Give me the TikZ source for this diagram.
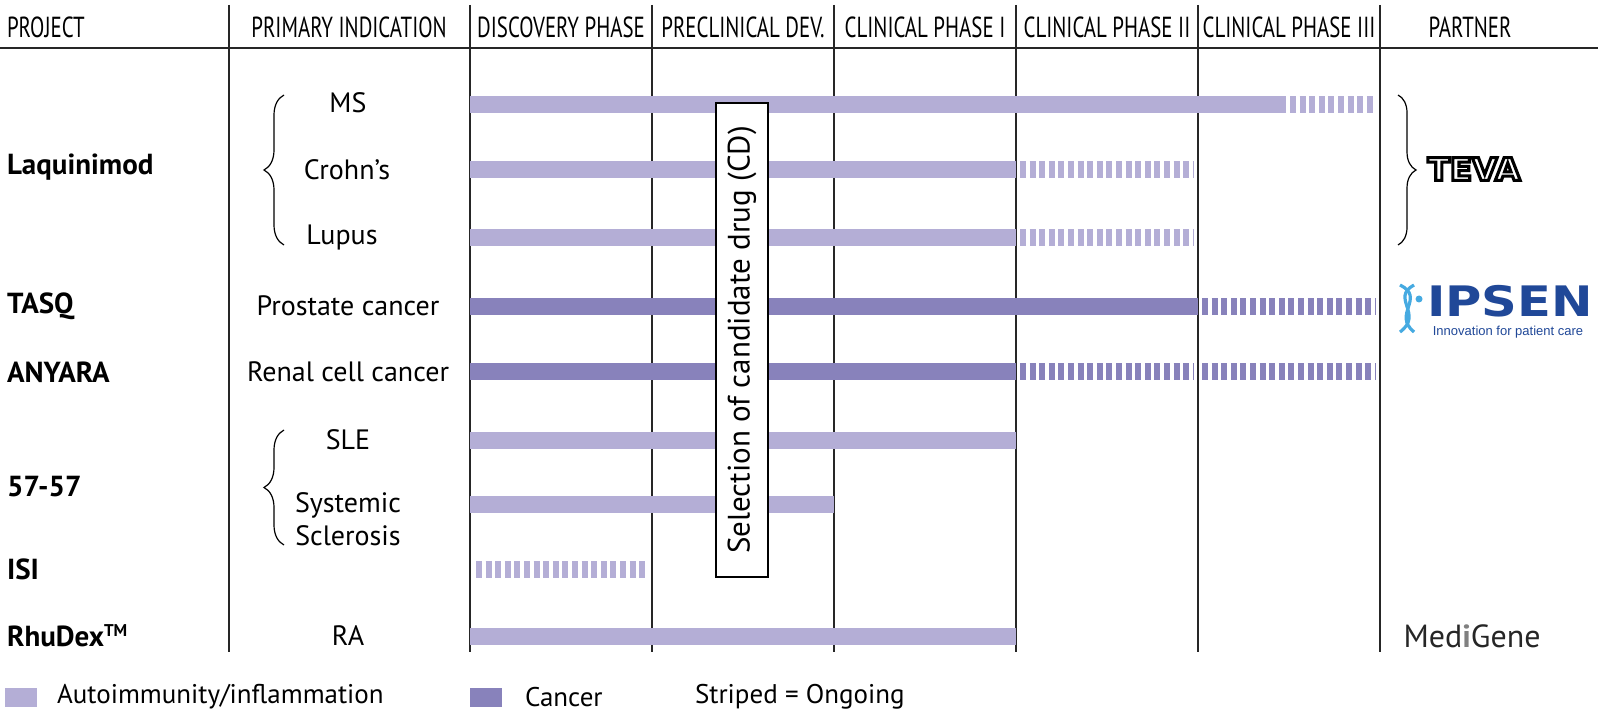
\documentclass[tikz,border=0pt]{standalone}
\usepackage{fontspec}
\setmainfont{PT Sans}
\newfontfamily\headfont[FakeStretch=0.72]{PT Sans}
\newfontfamily\logofont{DejaVu Sans}
\newfontfamily\ipsfont{Liberation Sans}
\usetikzlibrary{decorations.pathreplacing}
\definecolor{autocol}{RGB}{180,174,214}
\definecolor{cancol}{RGB}{136,130,187}
\definecolor{ipsblue}{RGB}{32,72,152}
\definecolor{dnablue}{RGB}{70,170,225}
\newcommand{\outlinetext}[1]{\special{pdf:literal 0 G 2 Tr 1.5 w}#1\special{pdf:literal 0 Tr}}
\tikzset{
  grid/.style={line width=0.7pt, black!85},
  head/.style={font=\headfont\fontsize{14.5}{16}\selectfont},
  proj/.style={font=\bfseries\fontsize{14.5}{16}\selectfont, anchor=west},
  ind/.style={font=\fontsize{14}{16.5}\selectfont, align=center},
  auto/.style={line width=8.5pt, autocol},
  canc/.style={line width=8.5pt, cancol},
  ongo/.style={dash pattern=on 3pt off 1.8pt},
  curly/.style={decorate, decoration={brace, amplitude=#1}, line width=0.6pt},
  legtext/.style={font=\fontsize{13.5}{15}\selectfont, anchor=west}
}
\begin{document}
\begin{tikzpicture}[x=0.5pt,y=-0.5pt]
\useasboundingbox[fill=white] (0,0) rectangle (1598,726);
\draw[grid] (0,48) -- (1598,48);
\foreach \xc in {229,470,652,834,1016,1198,1380}
  \draw[grid] (\xc,5) -- (\xc,652);
\node[head, anchor=west] (hproj) at (0,27) {PROJECT};
\node[head] (hind) at (349,27) {PRIMARY INDICATION};
\node[head] (hdisc) at (561,27) {DISCOVERY PHASE};
\node[head] (hpre) at (743,27) {PRECLINICAL DEV.};
\node[head] (hci) at (925,27) {CLINICAL PHASE I};
\node[head] (hcii) at (1107,27) {CLINICAL PHASE II};
\node[head] (hciii) at (1289,27) {CLINICAL PHASE III};
\node[head] (hpart) at (1470,27) {PARTNER};
\node[proj] (laq) at (0,167) {Laquinimod};
\node[proj] (tasq) at (0,306) {TASQ};
\node[proj] (anyara) at (0,372) {ANYARA};
\node[proj] (fiftyseven) at (0,487) {57-57};
\node[proj] (isi) at (0,569) {ISI};
\node[proj] (rhudex) at (0,636) {RhuDex\textsuperscript{\fontsize{8.5}{9}\selectfont TM}};
\node[ind] (ms) at (348,103) {MS};
\node[ind] (crohn) at (347,170) {Crohn’s};
\node[ind] (lupus) at (342,238) {Lupus};
\node[ind] (prostate) at (348,306) {Prostate cancer};
\node[ind] (renal) at (348,372) {Renal cell cancer};
\node[ind] (sle) at (348,440) {SLE};
\node[ind] (ssc) at (348,519) {Systemic\\Sclerosis};
\node[ind] (ra) at (348,636) {RA};
\draw[curly=10pt] (284,245) -- (284,95);
\draw[curly=10pt] (284,545) -- (284,430);
\draw[curly=9pt] (1398,95) -- (1398,245);
\draw[auto] (470,105) -- (1286,105);
\draw[auto, ongo] (1290,105) -- (1376,105);
\draw[auto] (470,170) -- (1016,170);
\draw[auto, ongo] (1020,170) -- (1194,170);
\draw[auto] (470,238) -- (1016,238);
\draw[auto, ongo] (1020,238) -- (1194,238);
\draw[canc] (470,307) -- (1198,307);
\draw[canc, ongo] (1202,307) -- (1376,307);
\draw[canc] (470,372) -- (1016,372);
\draw[canc, ongo] (1020,372) -- (1194,372);
\draw[canc, ongo] (1202,372) -- (1376,372);
\draw[auto] (470,440) -- (1016,440);
\draw[auto] (470,504) -- (834,504);
\draw[auto, ongo] (476,569) -- (648,569);
\draw[auto] (470,636) -- (1016,636);
\node[draw, fill=white, line width=0.7pt, rotate=90, minimum width=237pt, minimum height=26pt,
  font=\fontsize{15.5}{17}\selectfont] (cd) at (742,340) {Selection of candidate drug (CD)};
\node[font=\logofont\bfseries\fontsize{15.5}{16}\selectfont, xscale=1.05, white] (teva) at (1474,169) {\outlinetext{TEVA}};
\draw[dnablue, line width=1.6pt] (1400,285) .. controls (1426,298) and (1392,314) .. (1414,332);
\draw[dnablue, line width=1.6pt] (1414,285) .. controls (1390,298) and (1424,314) .. (1400,332);
\fill[dnablue] (1419,299) circle (3.5);
\node[font=\logofont\bfseries\fontsize{21}{22}\selectfont, ipsblue, xscale=1.18, inner sep=0pt] (ipsen) at (1510,301) {IPSEN};
\node[font=\ipsfont\fontsize{6.5}{8}\selectfont, ipsblue, inner sep=0pt, anchor=north] (ipstag) at (1508,326) {Innovation for patient care};
\node[font=\fontsize{16}{17}\selectfont, black!85] (medigene) at (1472,636) {Med\textcolor{gray}{\bfseries i}Gene};
\fill[autocol] (5,688) rectangle (37,707);
\node[legtext] (legauto) at (50,697) {Autoimmunity/inflammation};
\fill[cancol] (470,688) rectangle (502,707);
\node[legtext] (legcanc) at (518,697) {Cancer};
\node[legtext] (legongo) at (688,697) {Striped = Ongoing};
\end{tikzpicture}
\end{document}
